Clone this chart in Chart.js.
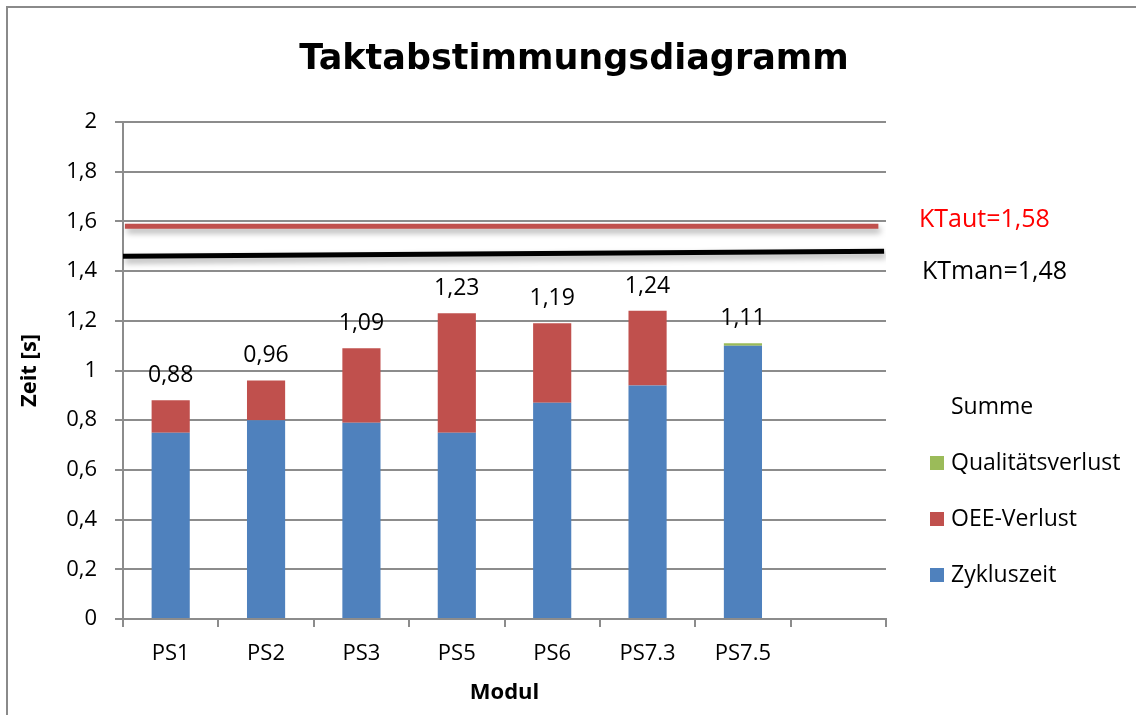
<!DOCTYPE html>
<html>
<head>
<meta charset="utf-8">
<script src="https://cdn.jsdelivr.net/npm/chart.js@4/dist/chart.umd.min.js"></script>
<style>
  html, body { margin: 0; padding: 0; background: #fff; }
  #wrap { width: 1136px; height: 715px; position: relative; }
</style>
</head>
<body>
<div id="wrap"><canvas id="c" width="1136" height="715"></canvas></div>
<script>
// Stations along the line (last slot is left empty)
const categories = ['PS1', 'PS2', 'PS3', 'PS5', 'PS6', 'PS7.3', 'PS7.5', ''];
// Pure cycle time per station [s]
const zykluszeit = [0.75, 0.80, 0.79, 0.75, 0.87, 0.94, 1.10, null];
// Quality loss per station [s]
const qualitaetsverlust = [0, 0, 0, 0, 0, 0, 0.01, null];
// Total time per station [s] (printed above each bar)
const summe = [0.88, 0.96, 1.09, 1.23, 1.19, 1.24, 1.11, null];
// OEE loss fills the gap between cycle time + quality loss and the total
const oeeVerlust = summe.map((s, i) => s === null ? null : +(s - zykluszeit[i] - qualitaetsverlust[i]).toFixed(3));

// Takt times
const ktAut = 1.58;
const ktManStart = 1.46;
const ktMan = 1.48;

const fmt = v => String(+v.toFixed(2)).replace('.', ',');
const tickFmt = v => String(Math.round(v * 10) / 10).replace('.', ',');

const FONT = '"Open Sans", Lato, sans-serif';
const TITLE_FONT = '"DejaVu Sans", "Open Sans", sans-serif';
const BLUE = '#4F81BD', RED = '#C0504D', GREEN = '#9BBB59', GRID = '#8C8C8C';

// White page with a grey frame
const framePlugin = {
  id: 'frame',
  beforeDraw(chart) {
    const ctx = chart.ctx;
    ctx.save();
    ctx.fillStyle = '#fff';
    ctx.fillRect(0, 0, chart.width, chart.height);
    ctx.strokeStyle = '#8a8a8a';
    ctx.lineWidth = 2;
    ctx.strokeRect(7, 7, chart.width + 20, chart.height + 20);
    ctx.restore();
  }
};

// Soft drop shadow under the takt time lines
const shadowPlugin = {
  id: 'lineShadow',
  beforeDatasetDraw(chart, args) {
    if (chart.data.datasets[args.index].type !== 'line') return;
    const ctx = chart.ctx;
    ctx.save();
    ctx.shadowColor = 'rgba(0,0,0,0.35)';
    ctx.shadowBlur = 6;
    ctx.shadowOffsetX = 2;
    ctx.shadowOffsetY = 4;
  },
  afterDatasetDraw(chart, args) {
    if (chart.data.datasets[args.index].type !== 'line') return;
    chart.ctx.restore();
  }
};

// Totals above the bars, takt labels and the legend on the right
const labelPlugin = {
  id: 'labels',
  afterDatasetsDraw(chart) {
    const ctx = chart.ctx;
    const x = chart.scales.x, y = chart.scales.y;
    ctx.save();
    ctx.font = '23px ' + FONT;
    ctx.fillStyle = '#000';
    ctx.textAlign = 'center';
    ctx.textBaseline = 'bottom';
    summe.forEach((v, i) => {
      if (v === null) return;
      ctx.fillText(fmt(v), x.getPixelForValue(i), y.getPixelForValue(v) - 13);
    });

    ctx.textAlign = 'left';
    ctx.textBaseline = 'middle';
    ctx.font = '25px ' + FONT;
    ctx.fillStyle = '#FF0000';
    ctx.fillText('KTaut=' + fmt(ktAut), 919, 220);
    ctx.fillStyle = '#000';
    ctx.fillText('KTman=' + fmt(ktMan), 922, 272);

    // legend
    ctx.font = '23px ' + FONT;
    ctx.fillText('Summe', 951, 407);
    const items = [['Qualitätsverlust', GREEN, 463], ['OEE-Verlust', RED, 519], ['Zykluszeit', BLUE, 575]];
    items.forEach(([t, c, yy]) => {
      ctx.fillStyle = c;
      ctx.fillRect(930, yy - 7, 14, 14);
      ctx.fillStyle = '#000';
      ctx.fillText(t, 951, yy);
    });
    ctx.restore();
  }
};

new Chart(document.getElementById('c'), {
  type: 'bar',
  data: {
    labels: categories,
    datasets: [
      { label: 'Zykluszeit', data: zykluszeit, backgroundColor: BLUE, stack: 's', order: 1 },
      { label: 'OEE-Verlust', data: oeeVerlust, backgroundColor: RED, stack: 's', order: 2 },
      { label: 'Qualitätsverlust', data: qualitaetsverlust, backgroundColor: GREEN, stack: 's', order: 3 },
      { type: 'line', label: 'KTaut', xAxisID: 'xl', data: [{ x: 0.02, y: ktAut }, { x: 7.92, y: ktAut }],
        borderColor: RED, borderWidth: 5, pointRadius: 0, order: 0 },
      { type: 'line', label: 'KTman', xAxisID: 'xl', data: [{ x: 0, y: ktManStart }, { x: 7.98, y: ktMan }],
        borderColor: '#000', borderWidth: 5, pointRadius: 0, order: 0 }
    ]
  },
  options: {
    responsive: false,
    animation: false,
    devicePixelRatio: 1,
    layout: { padding: { left: 12, right: 0, top: 0, bottom: 0 } },
    datasets: { bar: { barPercentage: 0.8, categoryPercentage: 0.5, grouped: false } },
    plugins: {
      legend: { display: false },
      tooltip: { enabled: false },
      title: {
        display: true,
        text: 'Taktabstimmungsdiagramm',
        color: '#000',
        font: { family: TITLE_FONT, size: 35, weight: 'bold', lineHeight: 1.2 },
        padding: { top: 39, bottom: 41 }
      }
    },
    scales: {
      x: {
        type: 'category',
        stacked: true,
        offset: true,
        grid: { display: true, drawOnChartArea: false, offset: true, color: GRID, lineWidth: 2, tickLength: 8 },
        border: { color: GRID, width: 2 },
        ticks: { color: '#000', font: { family: FONT, size: 22 }, padding: 14, maxRotation: 0, autoSkip: false },
        title: { display: true, text: 'Modul', color: '#000', font: { family: FONT, size: 22, weight: 'bold' }, padding: { top: 4, bottom: 9 } },
        afterFit(s) { s.height = 96; }
      },
      xl: {
        type: 'linear',
        display: false,
        offset: false,
        min: 0,
        max: 8
      },
      y: {
        stacked: true,
        min: 0,
        max: 2,
        ticks: { stepSize: 0.2, color: '#000', font: { family: FONT, size: 22 }, padding: 18, callback: v => tickFmt(v) },
        grid: { color: GRID, lineWidth: 2, tickLength: 8 },
        border: { color: GRID, width: 2 },
        title: { display: true, text: 'Zeit [s]', color: '#000', font: { family: FONT, size: 22, weight: 'bold' }, padding: { top: 5, bottom: 0 } },
        afterFit(s) { s.width = 111; }
      },
      yr: {
        position: 'right',
        display: true,
        grid: { display: false },
        border: { display: false },
        ticks: { display: false },
        afterFit(s) { s.width = 250; }
      }
    }
  },
  plugins: [framePlugin, shadowPlugin, labelPlugin]
});
</script>
</body>
</html>
